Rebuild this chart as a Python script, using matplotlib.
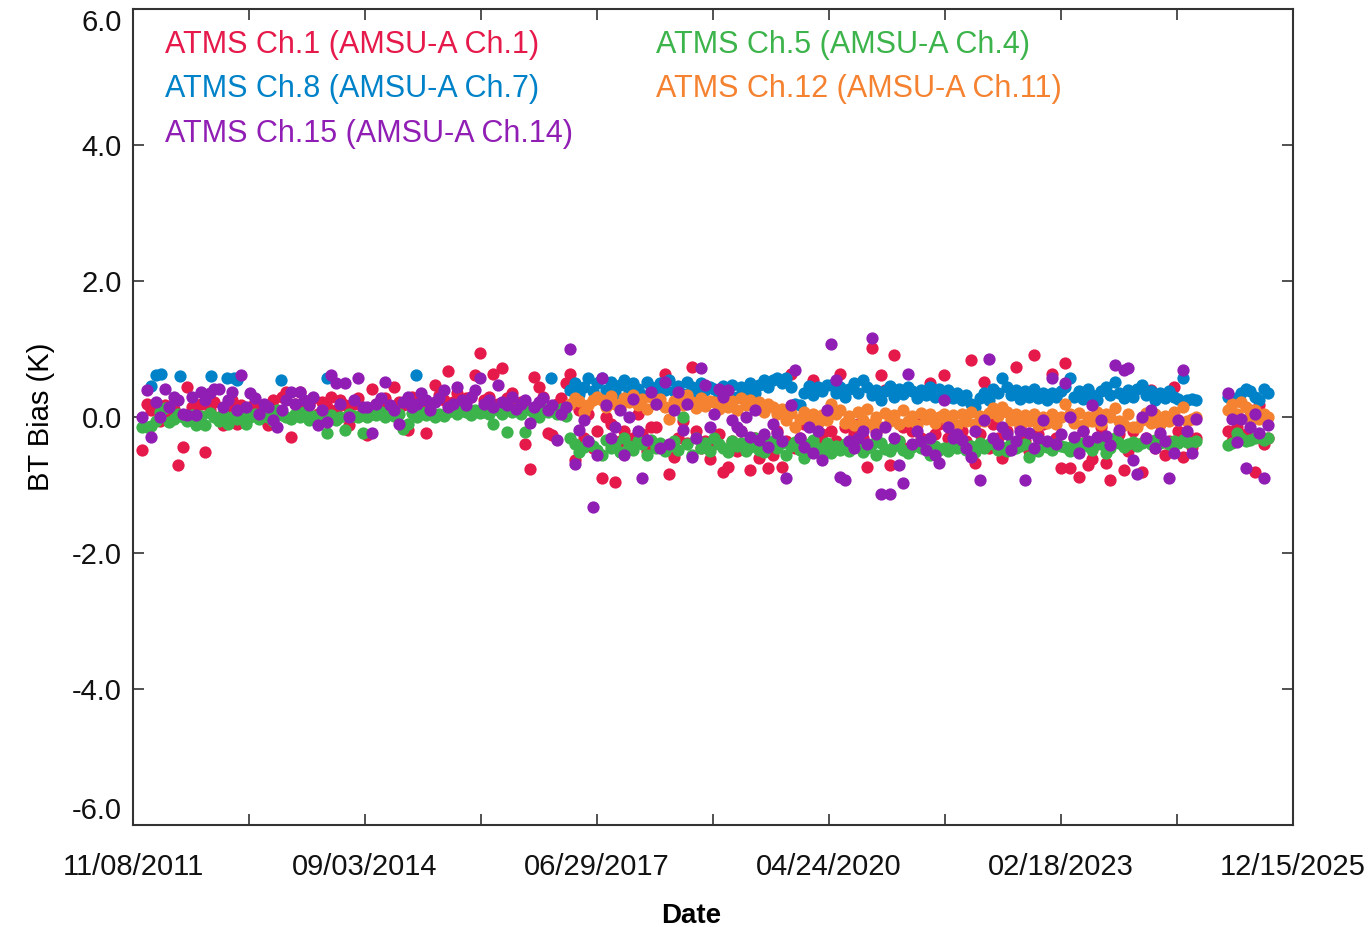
import numpy as np
import pandas as pd
import matplotlib
matplotlib.use("Agg")
import matplotlib.pyplot as plt
import matplotlib.dates as mdates
from matplotlib.lines import Line2D

plt.rcParams['font.family'] = ['Liberation Sans', 'DejaVu Sans']

# ---------------- data ----------------
# common sampling grid (20-day cadence), values in hundredths of K
grid_start = "2011-12-19"
grid_step_days = 20

red_vals = [
    -49, 20, 10, 15, -5, 18, 8, 12, -71, -44, 45, 15, 5, 20, -51, 10, 22, 0, -12, 15, 25, -10, 18, 8,
    15, 22, 8, 18, -12, 25, 10, 30, 37, -29, 20, 37, 12, 18, 28, 5, 22, 15, 30, 10, 25, 18, -12, 20, 28, 12,
    -26, 42, 20, 15, 28, 10, 45, 22, 18, -19, 30, 25, 15, -24, 20, 47, 32, 25, 68, 22, 35, 18, 28, 30, 62, 95,
    25, 30, 64, 20, 72, 28, 35, 15, 22, -39, -77, 59, 45, 30, -24, -26, 20, 28, 50, 63, -63, 10, -30, 5, -45, -20,
    -90, 0, -10, -96, -35, -20, -45, -30, 5, -25, -50, -15, -14, -40, 64, -83, -58, -30, -5, -38, 74, -20, -45, -35, -61,
    -40, -25, -80, -73, -35, -50, -20, -45, -78, -30, -60, -40, -75, -55, -20, -73, -35, 64, -45, -30, -10, -50, 54, -35, -25, -40,
    -20, -35, 64, -15, -40, -25, -10, -30, -73, 101, -20, 62, 40, -71, 91, -35, -15, -45, -20, -5, -30, -40, 50, -25, -10, 62,
    -30, -15, -40, -20, -35, 84, -68, -25, 52, -45, -10, -30, -60, -20, -40, 74, -15, -35, -50, 91, -25, -10, -40, 64, -30, -75,
    79, -75, -30, -88, -20, -70, -61, -40, -15, -68, -93, -35, -25, -78, -50, -20, -40, -80, -30, 40, -45, -10, -55, -35, 45, -20,
    -58, -25, -44, -30,
    None, None, None, None, None, None,
    -20, -35, -15, -30, -25, 10, -80, 18, -40, -30,
]

green_vals = [
    -15, -14, -13, -5, 8, 13, -7, -2, 5, 0, -5, 3, -12, 2, -12, 6, 0, -5, 4, -10, 0, -3, 5, -10,
    0, 5, -3, 8, 0, -5, 10, 3, 0, -2, 5, 0, 8, -4, 2, 0, 5, -24, 3, -4, 0, -19, 5, 2, 0, -24,
    0, 5, 3, 8, 0, 10, 2, 5, -17, -10, 6, 0, 8, 3, 10, 0, 5, 2, 8, 10, 5, 12, 8, 3, 10, 6,
    8, 5, -10, 10, 5, -22, 8, 12, 5, -22, 10, 6, 0, 12, 8, 10, 5, 12, 2, -30, -39, -51, -44, -35, -42, -48,
    -56, -34, -45, -38, -51, -30, -42, -48, -35, -40, -55, -33, -45, -38, -50, -42, -35, -48, 0, -40, -55, -30, -45, -38, -50,
    -31, -40, -45, -51, -35, -42, -38, -50, -44, -30, -48, -52, -40, -35, -45, -38, -55, -42, -36, -48, -60, -40, -33, -45, -50, -38,
    -53, -42, -48, -40, -50, -44, -36, -52, -45, -40, -55, -38, -47, -50, -42, -35, -48, -53, -44, -40, -46, -38, -56, -42, -48, -45,
    -50, -40, -45, -36, -48, -42, -52, -38, -45, -40, -35, -48, -44, -50, -38, -46, -42, -40, -58, -45, -50, -38, -44, -48, -40, -42,
    -44, -50, -40, -46, -38, -42, -48, -35, -40, -53, -45, -30, -38, -44, -40, -36, -42, -38, -35, -40, -34, -38, -36, -40, -35, -38,
    -34, -36, -38, -35,
    None, None, None, None, None, None,
    -41, -38, -24, -30, -35, -33, -31, -28, -34, -30,
]

blue_vals = [None] * 95 + [
    40, 50, 34, 45, 57, 38, 50,
    57, 40, 52, 35, 48, 55, 38, 50, 42, 33, 52, 45, 36, 50, 40, 55, 38, 46, 34, 52, 44, 37, 50, 40, 45,
    42, 33, 46, 36, 48, 30, 44, 38, 50, 35, 48, 55, 45, 54, 57, 50, 58, 45, 20, 18, 35, 46, 32, 44, 38, 48,
    48, 35, 44, 30, 42, 50, 36, 54, 45, 32, 40, 25, 38, 46, 30, 42, 34, 45, 38, 28, 40, 33, 45, 30, 42, 36,
    40, 28, 36, 25, 32, 20, 15, 28, 35, 25, 42, 35, 57, 45, 33, 40, 26, 38, 30, 42, 28, 36, 25, 35, 30, 38,
    45, 57, 30, 38, 26, 42, 32, 25, 38, 45, 33, 52, 36, 28, 40, 30, 42, 47, 32, 38, 25, 35, 28, 38, 30, 26,
    58, 25, 27, 25,
    None, None, None, None, None, None,
    30, 25, 28, 35, 42, 38, 30, 25, 42, 35,
]
# sparse early Ch.8 points
blue_early_dates = ["2012-01-27", "2012-02-18", "2012-03-11", "2012-06-04", "2012-10-19",
                    "2012-12-29", "2013-01-29", "2013-02-11", "2013-08-26", "2014-03-18",
                    "2015-04-17", "2016-12-07"]
blue_early_vals = [46, 62, 63, 60, 60, 58, 57, 54, 54, 57, 62, 58]

orange_vals = [None] * 95 + [
    20, 28, 24, 8, 18, 25, 30,
    25, 15, 31, 20, 13, 28, 22, 32, 18, 26, 12, 30, 20, 27, 15, -2, 24, 30, 18, 32, 22, 13, 28, 16, 24,
    22, 12, 26, 15, 24, 10, 28, 18, 25, 14, 22, 8, 20, 15, 5, 12, -4, 6, -14, -2, 8, -6, 4, -8, 3, -4,
    20, 5, 10, -8, 2, -12, 8, -4, 12, -10, 0, -14, 6, -5, 3, -10, 10, -6, 2, -12, 6, -3, 4, -9, 0, 5,
    -8, 3, -12, 5, -5, 8, -10, 2, -6, 6, 14, 2, 15, 8, -4, 4, -10, 3, -6, 5, -12, 0, -8, 4, -10, 0,
    20, 5, -8, 6, -12, 0, -5, 8, -10, 5, 0, 13, -6, -12, 4, -15, -14, -4, 6, -8, 5, -10, 2, -6, 8, -4,
    15, -5, -2, 0,
    None, None, None, None, None, None,
    10, 20, 5, 22, 15, 0, 10, -2, 5, 0,
]

purple_vals = [
    0, 40, -29, 22, 0, 41, 15, 30, 25, 5, 3, 30, 3, 37, 25, 35, 42, 42, 15, 25, 37, 10, 62, 15,
    35, 28, 5, 20, 15, -4, -14, 10, 25, 37, 20, 37, 25, 18, 30, -12, 10, -7, 62, 50, 20, 50, 0, 25, 57, 15,
    15, -24, 20, 28, 52, 18, 10, -10, 22, 30, 15, 20, 35, 25, 10, 22, 28, 40, 15, 20, 45, 25, 18, 30, 40, 57,
    20, 25, 15, 47, 22, 18, 30, 12, 20, 25, -9, 15, 22, 28, 10, 18, -34, 5, 15, 100, -69, -19, -4, -35, -132, -56,
    57, 18, -31, -14, 10, -56, 0, 27, -20, -90, -34, 37, 20, -45, 52, -39, 10, 37, -19, 20, -58, -30, 73, 47, -14,
    5, 42, 30, 40, -4, -14, -20, 0, -29, 10, -34, -25, -44, -10, -24, -35, -90, 18, 69, -30, -44, -15, -53, -20, -63, 10,
    107, 54, -88, -92, -35, -45, -30, -20, -40, 116, -25, -113, -15, -113, -30, -70, -97, 64, -40, -20, -35, -49, -30, -55, -68, 25,
    -14, -30, -25, -34, -45, -58, -20, -92, -4, 86, -30, -40, -14, -25, -49, -35, -20, -92, -24, -45, -30, -4, -35, 57, -39, -25,
    50, 0, -29, -53, -20, -35, 18, -29, -4, -27, -41, 76, -19, 69, 72, -63, -83, 0, -30, 10, -45, -24, -35, -90, -53, -4,
    70, -20, -53, -2,
    None, None, None, None, None, None,
    35, -2, -36, -2, -75, -14, 5, -24, -90, -12,
]

series_labels = ["ATMS Ch.1 (AMSU-A Ch.1)", "ATMS Ch.5 (AMSU-A Ch.4)",
                 "ATMS Ch.8 (AMSU-A Ch.7)", "ATMS Ch.12 (AMSU-A Ch.11)",
                 "ATMS Ch.15 (AMSU-A Ch.14)"]
series_colors = ["#e6194b", "#3cb44b", "#0082c8", "#f58231", "#911eb4"]

x_start, x_end = "2011-11-08", "2025-12-15"
x_tick_labels = ["11/08/2011", "", "09/03/2014", "", "06/29/2017", "",
                 "04/24/2020", "", "02/18/2023", "", "12/15/2025"]
y_ticks = [-6, -4, -2, 0, 2, 4, 6]

# ---------------- plot ----------------
def to_series(vals):
    n = len(vals)
    d = pd.date_range(grid_start, periods=n, freq=f"{grid_step_days}D")
    v = np.array([np.nan if a is None else a / 100.0 for a in vals])
    m = ~np.isnan(v)
    return d[m], v[m]

fig = plt.figure(figsize=(13.71, 9.27), dpi=100)
ax = fig.add_axes([0.097, 0.110, 0.846, 0.880])

all_vals = [red_vals, green_vals, blue_vals, orange_vals, purple_vals]
for k, (vals, col) in enumerate(zip(all_vals, series_colors)):
    d, v = to_series(vals)
    if k == 2:
        ed = pd.to_datetime(blue_early_dates)
        ev = np.array(blue_early_vals) / 100.0
        d = ed.append(d)
        v = np.concatenate([ev, v])
    ax.scatter(d, v, s=78, color=col, linewidths=0, zorder=2 + k)

ax.set_xlim(pd.Timestamp(x_start), pd.Timestamp(x_end))
ax.set_ylim(-6, 6)

tick_dates = pd.date_range(x_start, x_end, periods=len(x_tick_labels))
ax.set_xticks(mdates.date2num(tick_dates))
ax.set_xticklabels(x_tick_labels)
ax.set_yticks(y_ticks)
ylabels = ax.set_yticklabels([f"{t:.1f}" for t in y_ticks])
ylabels[0].set_verticalalignment('bottom')
ylabels[-1].set_verticalalignment('top')

ax.tick_params(axis='both', direction='in', length=8, width=1.2, color='#333333',
               labelsize=21, top=True, right=True, labelcolor='#111111')
ax.tick_params(axis='x', pad=20)
ax.tick_params(axis='y', pad=8)
for s in ax.spines.values():
    s.set_linewidth(1.5)
    s.set_color('#333333')

ax.set_xlabel("Date", fontsize=20, fontweight='bold', labelpad=16)
ax.xaxis.set_label_coords(0.481, -0.095)
ax.set_ylabel("BT Bias (K)", fontsize=21, labelpad=12)

# legend laid out row-wise: Ch.1 | Ch.5 / Ch.8 | Ch.12 / Ch.15
order = [0, 2, 4, 1, 3]
handles = [Line2D([], [], linestyle='none', marker='none') for _ in order]
leg = ax.legend(handles, [series_labels[i] for i in order], ncol=2, loc='upper left',
                bbox_to_anchor=(0.0276, 0.975), frameon=False, fontsize=22,
                handlelength=0, handletextpad=0, columnspacing=2.73,
                labelspacing=0.48, borderaxespad=0.0, borderpad=0.0,
                labelcolor=[series_colors[i] for i in order])

fig.savefig("out.png", dpi=100)
